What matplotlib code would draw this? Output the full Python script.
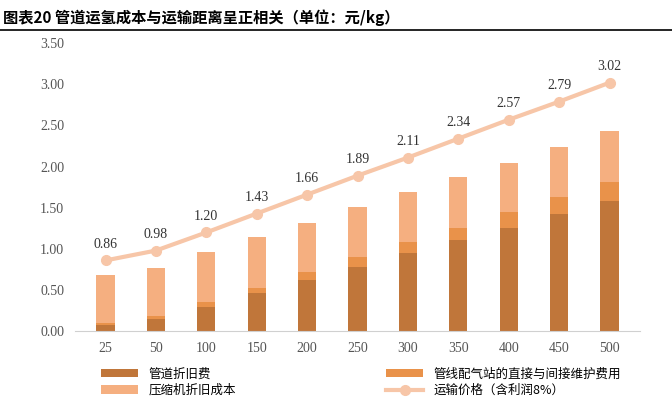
import numpy as np
import matplotlib.pyplot as plt

plt.rcParams['font.family'] = 'Noto Sans CJK SC'

distance = ['25', '50', '100', '150', '200', '250', '300', '350', '400', '450', '500']
pipe_dep = [0.07, 0.15, 0.30, 0.46, 0.62, 0.78, 0.95, 1.11, 1.26, 1.42, 1.58]
station_maint = [0.03, 0.03, 0.05, 0.07, 0.10, 0.12, 0.13, 0.15, 0.19, 0.21, 0.23]
compressor_dep = [0.58, 0.59, 0.61, 0.61, 0.59, 0.61, 0.61, 0.61, 0.60, 0.61, 0.62]
price = [0.86, 0.98, 1.20, 1.43, 1.66, 1.89, 2.11, 2.34, 2.57, 2.79, 3.02]

c_dark = '#C0763A'
c_mid = '#E9924A'
c_light = '#F5AF80'
c_line = '#F7C6A8'

fig = plt.figure(figsize=(6.72, 4.0), dpi=100)
ax = fig.add_axes([0.112, 0.172, 0.84, 0.72])
x = np.arange(len(distance))
w = 0.36
b1 = np.array(pipe_dep)
b2 = b1 + np.array(station_maint)
h1 = ax.bar(x, pipe_dep, w, color=c_dark, label='管道折旧费')
h2 = ax.bar(x, station_maint, w, bottom=b1, color=c_mid, label='管线配气站的直接与间接维护费用')
h3 = ax.bar(x, compressor_dep, w, bottom=b2, color=c_light, label='压缩机折旧成本')
h4, = ax.plot(x, price, color=c_line, lw=3, marker='o', ms=7, label='运输价格（含利润8%）')
for xi, p in zip(x, price):
    ax.text(xi, p + 0.12, f'{p:.2f}', ha='center', va='bottom', fontsize=10,
            family='Liberation Serif', color='#333333')

ax.set_ylim(0, 3.5)
ax.set_yticks(np.arange(0, 3.51, 0.5))
ax.set_yticklabels([f'{v:.2f}' for v in np.arange(0, 3.51, 0.5)], family='Liberation Serif', fontsize=10, color='#555555')
ax.set_xticks(x)
ax.set_xticklabels(distance, family='Liberation Serif', fontsize=10, color='#555555')
ax.set_xlim(-0.6, len(distance) - 0.4)
for s in ['top', 'right', 'left']:
    ax.spines[s].set_visible(False)
ax.spines['bottom'].set_color('#d0d0d0')
ax.tick_params(length=0, pad=8)

handles = [h1, h3, h2, h4]
ax.legend(handles, [h.get_label() for h in handles], loc='upper left', bbox_to_anchor=(0.03, -0.095),
          ncol=2, frameon=False, fontsize=9, columnspacing=12, handlelength=3, labelspacing=0.3,
          borderpad=0.2)

fig.text(0.005, 0.955, '图表20 管道运氢成本与运输距离呈正相关（单位：元/kg）', fontsize=11,
         fontweight='bold', va='center')
fig.add_artist(plt.Line2D([0, 1], [0.925, 0.925], color='black', lw=1.2))

plt.savefig('out.png', dpi=100, facecolor='white')
